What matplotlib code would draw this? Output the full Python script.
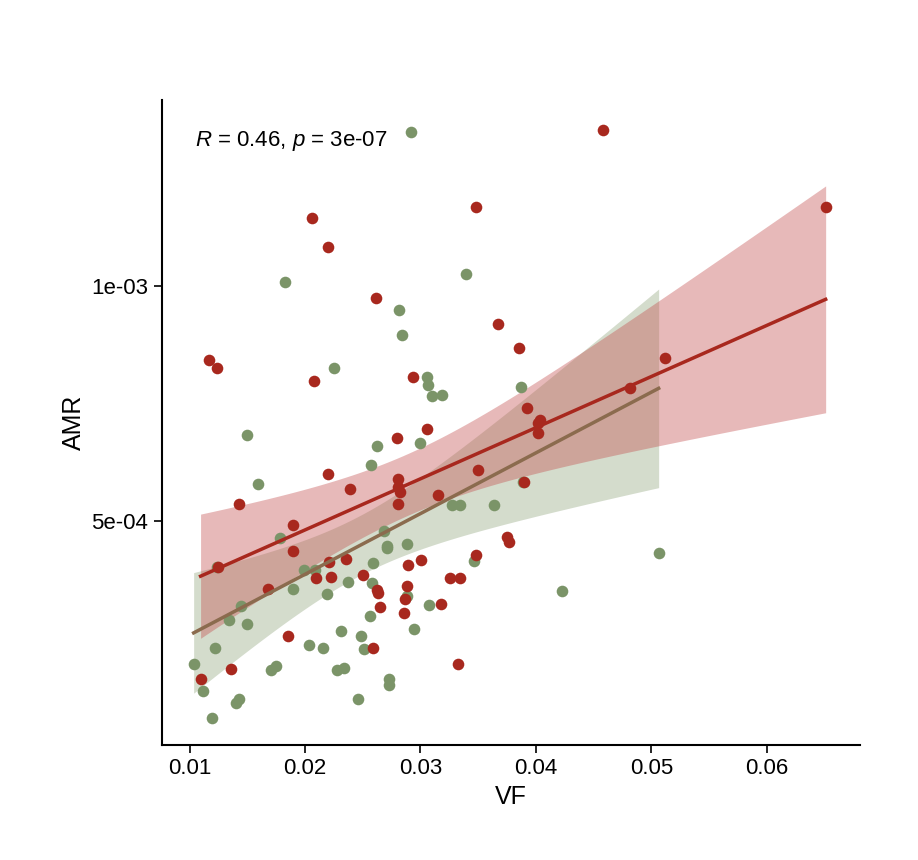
import numpy as np
import matplotlib
matplotlib.use("Agg")
import matplotlib.pyplot as plt
plt.rcParams["font.family"] = "Liberation Sans"
plt.rcParams["mathtext.fontset"] = "custom"
plt.rcParams["mathtext.it"] = "Liberation Sans:italic"
plt.rcParams["mathtext.rm"] = "Liberation Sans"

def px2x(p): return 0.01 + (p - 190) / 11540.0
def px2y(p): return 5e-4 + (521 - p) / 235.0 * 5e-4

red_px = [(201,679),(209,360),(217,368),(218,567),(231,669),(239,504),(268,589),(288,636),(293,525),(293,551),(312,218),(314,381),(316,578),(328,247),(328,474),(329,562),(331,577),(346,559),(350,489),(363,575),(373,648),(376,298),(377,590),(378,593),(380,607),(397,438),(398,479),(398,487),(400,492),(398,504),(405,599),(407,586),(404,613),(408,565),(413,377),(421,560),(427,429),(438,495),(441,604),(450,578),(458,664),(460,578),(476,207),(476,555),(478,470),(498,324),(507,537),(509,542),(519,348),(524,482),(527,408),(538,423),(538,433),(540,420),(603,130),(630,388),(665,358),(826,207)]
green_px = [(194,664),(203,691),(212,718),(215,648),(217,567),(229,620),(236,703),(239,699),(241,606),(247,435),(247,624),(258,484),(271,670),(276,666),(280,538),(285,282),(293,589),(304,570),(309,645),(315,570),(323,648),(327,594),(334,368),(337,670),(341,631),(344,668),(348,582),(358,699),(361,636),(364,649),(371,465),(370,616),(372,583),(373,563),(377,446),(384,531),(387,546),(387,548),(389,679),(389,685),(399,310),(402,335),(407,596),(407,544),(414,629),(420,443),(427,377),(428,385),(429,605),(432,396),(442,395),(452,505),(460,505),(466,274),(474,561),(494,505),(521,387),(523,482),(562,591),(659,553),(411,132)]

red_vf = [round(px2x(p[0]), 5) for p in red_px]
red_amr = [px2y(p[1]) for p in red_px]
green_vf = [round(px2x(p[0]), 5) for p in green_px]
green_amr = [px2y(p[1]) for p in green_px]

RED = "#A8281E"
GREEN = "#7B9468"

fig = plt.figure(figsize=(9.18, 8.6), dpi=100)
ax = fig.add_axes([0.176, 0.134, 0.761, 0.75])

def fit(x, y, fill):
    x = np.array(x); y = np.array(y)
    n = len(x)
    b, a = np.polyfit(x, y, 1)
    xs = np.linspace(x.min(), x.max(), 100)
    yh = a + b * xs
    res = y - (a + b * x)
    s = np.sqrt(np.sum(res**2) / (n - 2))
    se = s * np.sqrt(1/n + (xs - x.mean())**2 / np.sum((x - x.mean())**2))
    ax.fill_between(xs, yh - 2.0*se, yh + 2.0*se, color=fill, alpha=0.4, lw=0, zorder=2)
    return xs, yh

ax.scatter(green_vf, green_amr, s=70, color=GREEN, zorder=3, lw=0)
ax.scatter(red_vf, red_amr, s=70, color=RED, zorder=3, lw=0)
gx, gy = fit(green_vf, green_amr, "#94A880")
rx, ry = fit(red_vf, red_amr, "#C45050")
ax.plot(gx, gy, color="#8B6B4E", lw=2.5, zorder=4)
ax.plot(rx, ry, color=RED, lw=2.5, zorder=4)

ax.set_xlim(0.00757, 0.0681)
ax.set_ylim(2.34e-5, 1.396e-3)
ax.set_xticks([0.01, 0.02, 0.03, 0.04, 0.05, 0.06])
ax.set_xticklabels(["0.01", "0.02", "0.03", "0.04", "0.05", "0.06"])
ax.set_yticks([5e-4, 1e-3])
ax.set_yticklabels(["5e-04", "1e-03"])
for s in ["top", "right"]:
    ax.spines[s].set_visible(False)
for s in ["left", "bottom"]:
    ax.spines[s].set_linewidth(1.5)
ax.tick_params(labelsize=16, width=1.2, length=6, colors="black")
ax.set_xlabel("VF", fontsize=18)
ax.set_ylabel("AMR", fontsize=18)
ax.text(0.048, 0.955, r"$R$ = 0.46, $p$ = 3e-07", transform=ax.transAxes, fontsize=16, va="top")
fig.savefig("out.png", dpi=100)
